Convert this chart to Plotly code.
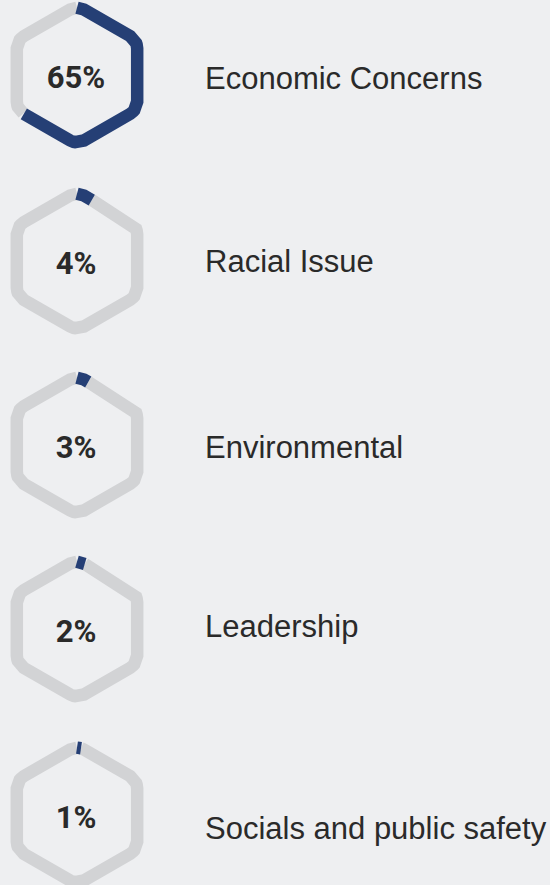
import numpy as np
import plotly.graph_objects as go

# chart values
categories = [
    "Economic Concerns",
    "Racial Issue",
    "Environmental",
    "Leadership",
    "Socials and public safety",
]
percents = [65, 4, 3, 2, 1]

BG = "#eeeff1"
GRAY = "#d2d3d5"
BLUE = "#253f75"
TEXT = "#2a2a2a"

W, H = 550, 885
cx = 77
centers_y = [75, 261, 445, 629, 815]
label_y = [81, 264, 450, 629, 831]
R = 69.5
CORNER = 14
STROKE = 12.5


def hex_path(cx, cy, R, r, n_arc=12):
    # pointy-top hexagon, clockwise from top vertex, rounded corners
    angs = np.deg2rad([-90, -30, 30, 90, 150, 210])
    verts = np.c_[cx + R * np.cos(angs), cy + R * np.sin(angs)]
    pts = []
    d = r / np.tan(np.deg2rad(60))
    for i in range(6):
        v = verts[i]
        prev_v = verts[i - 1]
        next_v = verts[(i + 1) % 6]
        u1 = (prev_v - v) / np.linalg.norm(prev_v - v)
        u2 = (next_v - v) / np.linalg.norm(next_v - v)
        p1 = v + u1 * d
        p2 = v + u2 * d
        bis = (u1 + u2) / np.linalg.norm(u1 + u2)
        c = v + bis * (r / np.sin(np.deg2rad(60)))
        a1 = np.arctan2(p1[1] - c[1], p1[0] - c[0])
        a2 = np.arctan2(p2[1] - c[1], p2[0] - c[0])
        if a2 < a1:
            a2 += 2 * np.pi
        aa = np.linspace(a1, a2, n_arc)
        pts.append(np.c_[c[0] + r * np.cos(aa), c[1] + r * np.sin(aa)])
    pts = np.vstack(pts)
    # start the path at the top
    start = n_arc // 2
    pts = np.vstack([pts[start:], pts[: start + 1]])
    pts[0] = [cx, pts[0][1]]
    pts[-1] = [cx, pts[-1][1]]
    return pts


def split_path(pts, frac):
    seg = np.linalg.norm(np.diff(pts, axis=0), axis=1)
    cum = np.r_[0, np.cumsum(seg)]
    target = frac * cum[-1]
    k = np.searchsorted(cum, target)
    k = max(1, min(k, len(pts) - 1))
    t = (target - cum[k - 1]) / seg[k - 1]
    mid = pts[k - 1] + t * (pts[k] - pts[k - 1])
    done = np.vstack([pts[:k], mid])
    rest = np.vstack([mid, pts[k:]])
    return done, rest


fig = go.Figure()

for cat, pct, cy, ly in zip(categories, percents, centers_y, label_y):
    pts = hex_path(cx, cy, R, CORNER)
    done, rest = split_path(pts, pct / 100)
    fig.add_trace(go.Scatter(x=rest[:, 0], y=rest[:, 1], mode="lines",
                             line=dict(color=GRAY, width=STROKE),
                             hoverinfo="skip", showlegend=False))
    fig.add_trace(go.Scatter(x=done[:, 0], y=done[:, 1], mode="lines",
                             line=dict(color=BLUE, width=STROKE),
                             hoverinfo="skip", showlegend=False))
    fig.add_trace(go.Scatter(x=[cx - 1], y=[cy + 5], mode="text", text=[f"{pct}%"],
                             textposition="middle center",
                             textfont=dict(family="Roboto", size=31, color=TEXT, weight="bold"),
                             hoverinfo="skip", showlegend=False))
    fig.add_trace(go.Scatter(x=[205], y=[ly], mode="text", text=[cat],
                             textposition="middle right",
                             textfont=dict(family="Liberation Sans, Arial", size=31, color=TEXT),
                             hoverinfo="skip", showlegend=False))

fig.update_xaxes(range=[0, W], visible=False, fixedrange=True)
fig.update_yaxes(range=[H, 0], visible=False, fixedrange=True)
fig.update_layout(
    width=W,
    height=H,
    margin=dict(l=0, r=0, t=0, b=0),
    paper_bgcolor=BG,
    plot_bgcolor=BG,
)

fig.write_html(
    "out.html",
    config={"displayModeBar": False},
    post_script="document.body.style.margin='0';document.body.style.background='%s';" % BG,
)
